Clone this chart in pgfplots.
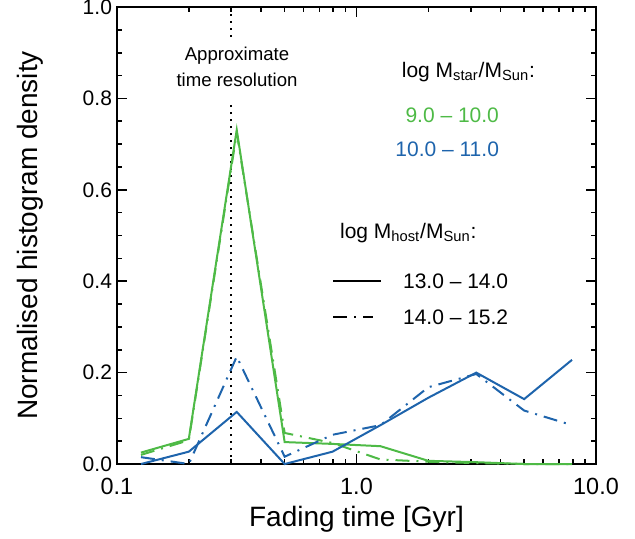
\documentclass[border=0pt]{standalone}
\usepackage{pgfplots}
\pgfplotsset{compat=1.18}
\usepackage{fontspec}
\setmainfont{Liberation Sans}
\definecolor{cgreen}{RGB}{78,186,70}
\definecolor{cblue}{RGB}{30,100,172}
\tikzset{dashdot/.style={dash pattern=on 7pt off 3.5pt on 1pt off 3.5pt}}
\begin{document}
\begin{tikzpicture}
\useasboundingbox (-58.5pt,-37pt) rectangle (259pt,232pt);
\begin{axis}[
  at={(0,0)}, anchor=south west,
  scale only axis, width=239.5pt, height=228.5pt,
  xmode=log, log basis x=10,
  xmin=0.1, xmax=10, ymin=0, ymax=1,
  xtick={0.1,1,10}, xticklabels={0.1,1.0,10.0},
  minor xtick={0.2,0.3,0.4,0.5,0.6,0.7,0.8,0.9,2,3,4,5,6,7,8,9},
  ytick={0,0.2,0.4,0.6,0.8,1.0}, yticklabels={0.0,0.2,0.4,0.6,0.8,1.0},
  minor ytick={0.05,0.1,0.15,0.25,0.3,0.35,0.45,0.5,0.55,0.65,0.7,0.75,0.85,0.9,0.95},
  xtick pos=both, ytick pos=both, ticklabel pos=left,
  tick align=inside, major tick length=5pt, minor tick length=2.5pt,
  axis line style={line width=1pt},
  every tick/.style={black, line width=0.8pt},
  yticklabel style={font=\fontsize{10.5}{12}\selectfont, xshift=1pt},
  xticklabel style={font=\fontsize{11.7}{13}\selectfont, yshift=-3.5pt},
  /pgf/number format/assume math mode=true,
  xlabel={Fading time [Gyr]},
  ylabel={Normalised histogram density},
  label style={font=\fontsize{14}{16}\selectfont},
  xlabel style={at={(axis description cs:0.5,-0.120)}, anchor=center},
  ylabel style={at={(axis description cs:-0.1816,0.5)}, anchor=center, rotate=0},
  clip=false,
]
% time resolution marker
\addplot[black, line width=1pt, dash pattern=on 1pt off 2.5pt] coordinates {(0.3,0) (0.3,0.795)};
\addplot[black, line width=1pt, dash pattern=on 1pt off 2.5pt] coordinates {(0.3,0.935) (0.3,1)};
% green: log Mstar 9-10
\addplot[cgreen, line width=1pt] coordinates {
 (0.1259,0.025) (0.1995,0.055) (0.3162,0.731) (0.5012,0.048) (0.7943,0.044)
 (1.2589,0.039) (1.9953,0.007) (3.1623,0.004) (5.0119,0.0) (7.9433,0.0)};
\addplot[cgreen, line width=1pt, dashdot] coordinates {
 (0.1259,0.020) (0.1995,0.052) (0.3162,0.725) (0.5012,0.068) (0.7943,0.046)
 (1.2589,0.010) (1.9953,0.005) (3.1623,0.002) (5.0119,0.0) (7.9433,0.0)};
% blue: log Mstar 10-11
\addplot[cblue, line width=1pt] coordinates {
 (0.1259,0.0) (0.1995,0.027) (0.3162,0.114) (0.5012,0.0) (0.7943,0.027)
 (1.2589,0.085) (1.9953,0.145) (3.1623,0.200) (5.0119,0.142) (7.9433,0.228)};
\addplot[cblue, line width=1pt, dashdot] coordinates {
 (0.1259,0.015) (0.1995,0.0) (0.3162,0.235) (0.5012,0.016) (0.7943,0.064)
 (1.2589,0.085) (1.9953,0.168) (3.1623,0.197) (5.0119,0.117) (7.9433,0.085)};
% annotations
\node[align=center, font=\fontsize{9.3}{13}\selectfont] at (axis description cs:0.2505,0.8687) {Approximate\\time resolution};
\node[anchor=west, font=\fontsize{10.5}{12}\selectfont] at (axis description cs:0.580,0.858) {log M\textsubscript{star}/M\textsubscript{Sun}:};
\node[anchor=east, text=cgreen, font=\fontsize{10.5}{12}\selectfont] at (axis description cs:0.8121,0.764) {9.0 -- 10.0};
\node[anchor=east, text=cblue, font=\fontsize{10.5}{12}\selectfont] at (axis description cs:0.8121,0.689) {10.0 -- 11.0};
\node[anchor=west, font=\fontsize{10.5}{12}\selectfont] at (axis description cs:0.451,0.5055) {log M\textsubscript{host}/M\textsubscript{Sun}:};
\draw[black, line width=1pt] (axis description cs:0.451,0.4004) -- (axis description cs:0.551,0.4004);
\node[anchor=west, font=\fontsize{10.5}{12}\selectfont] at (axis description cs:0.5825,0.4004) {13.0 -- 14.0};
\draw[black, line width=1pt, dashdot] (axis description cs:0.451,0.3217) -- (axis description cs:0.5345,0.3217);
\node[anchor=west, font=\fontsize{10.5}{12}\selectfont] at (axis description cs:0.5825,0.3217) {14.0 -- 15.2};
\end{axis}
\end{tikzpicture}
\end{document}
